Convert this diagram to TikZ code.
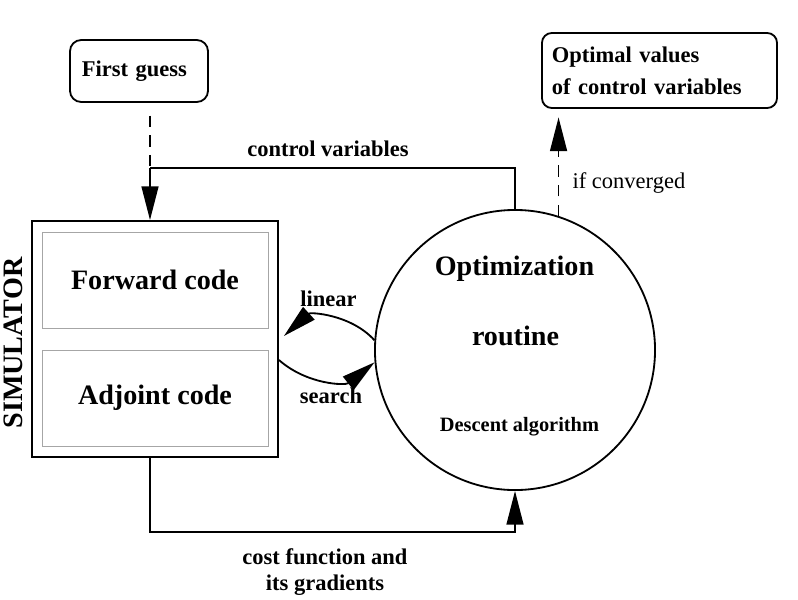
\documentclass[tikz,border=0pt]{standalone}
\usepackage{fontspec}
\setmainfont{Liberation Serif}
\usetikzlibrary{arrows.meta,calc}

\begin{document}
\begin{tikzpicture}[x=0.025cm,y=-0.025cm,line width=1.3pt,
    big/.style={font=\bfseries\fontsize{20}{24}\selectfont},
    med/.style={font=\bfseries\fontsize{16}{18}\selectfont},
    arr/.style={-{Triangle[length=24pt,width=12pt]}},
    dsh/.style={dash pattern=on 8pt off 6pt}]
		\useasboundingbox (0,0) rectangle (798,600);

		% Start and end boxes
		\node[draw, rounded corners=8pt, med, align=left, text width=2.85cm, inner xsep=0.3cm, minimum height=1.55cm] (guess) at (139,71) {First guess};
		\node[draw, rounded corners=7pt, align=left, text width=5.375cm, inner xsep=0.25cm, minimum height=1.875cm, font=\bfseries\fontsize{16}{22.8}\selectfont] (optval) at (659.5,70.5) {Optimal values\\of control variables};

		% Simulator with its two codes
		\node[draw, minimum width=6.15cm, minimum height=5.9cm] (sim) at (155,339) {};
		\node[draw=gray!70, line width=0.6pt, minimum width=5.65cm, minimum height=2.4cm, big] (fwd) at (155,280) {Forward code};
		\node[draw=gray!70, line width=0.6pt, minimum width=5.65cm, minimum height=2.4cm, big] (adj) at (155,398) {Adjoint code};
		\node[big, rotate=90, anchor=base] (simlbl) at (23,343) {SIMULATOR};

		% Optimization routine
		\node[draw, circle, inner sep=0pt, minimum size=7cm] (opt) at (515,350) {};
		\node[big, anchor=base] (optA) at (514.5,275) {Optimization};
		\node[big, anchor=base] (optB) at (515.5,345) {routine};
		\node[font=\bfseries\fontsize{14.5}{17}\selectfont, anchor=base] (desc) at (519.5,431) {Descent algorithm};

		% First guess and control variables
		\coordinate (join) at (150,168);
		\draw[dsh, shorten <=9pt] (guess.south -| join) -- (join);
		\draw[arr] (join) -- (join |- sim.north);
		\draw (opt.north) |- (join);
		\node[med, anchor=base] (ctrl) at (328,156) {control variables};

		% Cost function back to the routine
		\coordinate (costc) at (150,532);
		\draw[arr] (sim.south -| costc) -- (costc) -| (opt.south);
		\node[med, align=center] (cost) at (325,572) {cost function and\\its gradients};

		% Linear search
		\coordinate (lintip) at ($(sim.east)+(5,-3)$);
		\coordinate (srcbeg) at ($(sim.east)+(0,21)$);
		\draw[arr] (opt.176) to[bend right=45] (lintip);
		\draw[arr] (srcbeg) to[bend right=40] (opt.185);
		\node[med, anchor=base] (lin) at (328.5,306) {linear};
		\node[med, anchor=base] (srch) at (331,403) {search};

		% Converged
		\draw[dsh, arr, shorten >=6pt] (opt.72.5) -- (opt.72.5 |- optval.south);
		\node[anchor=base west, font=\fontsize{16}{18}\selectfont] (conv) at (567,188) {if converged};

	\end{tikzpicture}
\end{document}
